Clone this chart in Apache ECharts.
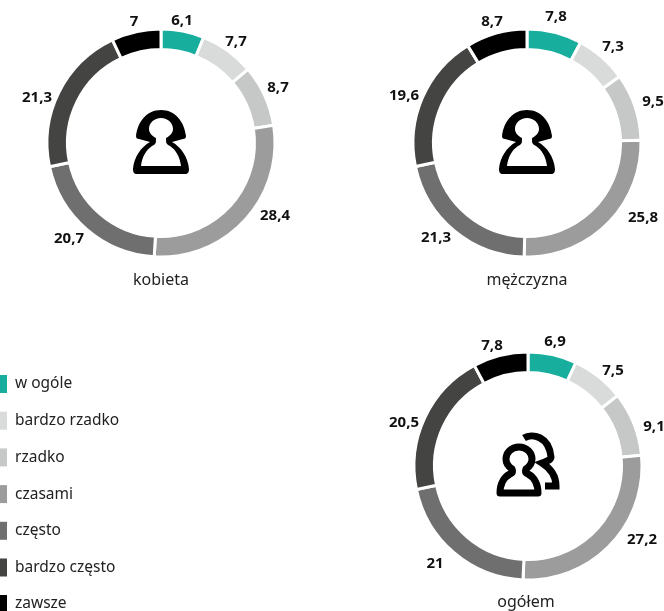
<!DOCTYPE html>
<html><head><meta charset="utf-8">
<style>html,body{margin:0;padding:0;background:#fff}#c{width:664px;height:611px}</style>
<script src="https://cdn.jsdelivr.net/npm/echarts@6/dist/echarts.min.js"></script>
</head><body><div id="c"></div>
<script>
const categories = ['w ogóle','bardzo rzadko','rzadko','czasami','często','bardzo często','zawsze'];
const colors = ['#17ae9d','#d9dbda','#c6c8c7','#9c9c9c','#6f6f6f','#444442','#000000'];
const kobieta = [6.1,7.7,8.7,28.4,20.7,21.3,7];
const mezczyzna = [7.8,7.3,9.5,25.8,21.3,19.6,8.7];
const ogolem = [6.9,7.5,9.1,27.2,21,20.5,7.8];
const FONT = '"Noto Sans", Roboto, sans-serif';
// Hand-placed label anchors, as in the reference
const labelAnchors = [
  [[182,21],[236,42],[278,88],[275,216],[69,239],[37,98],[134,22]],
  [[556,17],[613,47],[653,102],[643,218],[436,238],[404,96],[492,22]],
  [[555,342],[613,371],[654,427],[642,540],[435,564],[404,423],[492,346]]
];

function pie(name, values, center, idx){
  return {
    type:'pie', name, center, radius:[93.5,114], startAngle:90, clockwise:true, silent:true,
    animation:false, avoidLabelOverlap:false,
    itemStyle:{borderColor:'#fff',borderWidth:3},
    label:{show:true,position:'outside',
      formatter:p=>String(p.value).replace('.',','),
      color:'#111',fontFamily:FONT,fontSize:15,fontWeight:700},
    labelLine:{show:false},
    labelLayout:p=>{const a=labelAnchors[idx][p.dataIndex];return {x:a[0],y:a[1],align:'center',verticalAlign:'middle'};},
    data:categories.map((c,i)=>({name:c,value:values[i],itemStyle:{color:colors[i]}}))
  };
}
function caption(text,x,y){
  return {text,left:x,top:y,padding:0,textAlign:'center',textStyle:{color:'#222',fontFamily:FONT,fontSize:16,fontWeight:400}};
}
const personOuter='M0 -33C14 -33 23 -22 25 -7C25 -5 24 -4 22 -4L11 -1C20 4 27 14 28 26C28 29 27 31 24 31L-24 31C-27 31 -28 29 -28 26C-27 14 -20 4 -11 -1L-22 -4C-24 -4 -25 -5 -25 -7C-23 -22 -14 -33 0 -33Z';
const personInner='M0 -25C7 -25 12 -20 12 -14C12 -10 9 -7 5 -5L5 -2C5 1 7 2 9 3C15 7 19 14 20 23L-20 23C-19 14 -15 7 -9 3C-7 2 -5 1 -5 -2L-5 -5C-9 -7 -12 -10 -12 -14C-12 -20 -7 -25 0 -25Z';
const frontPerson='M0 -23C8 -23 13 -17 13 -11C13 -6 10 -3 7 -1C6 1 6 3 9 4C15 7 19 14 19 23L-19 23C-19 14 -15 7 -9 4C-6 3 -6 1 -7 -1C-10 -3 -13 -6 -13 -11C-13 -17 -8 -23 0 -23Z';
const backPerson='M0 -28C8 -33 25 -30 27 -9C27 -6 23 -5 18 -3C26 2 32 10 32 20L21 20';
const G=echarts.graphic;
G.registerShape('pOuter',G.extendPath(personOuter,{}));
G.registerShape('pInner',G.extendPath(personInner,{}));
G.registerShape('pFront',G.extendPath(frontPerson,{}));
G.registerShape('pBack',G.extendPath(backPerson,{}));
function raw(type,x,y,style){return {type,x,y,silent:true,style};}

const chart=echarts.init(document.getElementById('c'),null,{renderer:'canvas'});
chart.setOption({
  backgroundColor:'#fff',animation:false,
  title:[caption('kobieta',161,272),caption('mężczyzna',527,272),caption('ogółem',526,594)],
  legend:[
    {orient:'vertical',left:0,top:375,itemWidth:7,itemHeight:18,itemGap:18.7,padding:0,selectedMode:false,
     icon:'rect',itemStyle:{borderWidth:0},
     textStyle:{color:'#222',fontFamily:FONT,fontSize:15.5,padding:[0,0,0,3]},data:categories.slice(0,6)},
    {orient:'vertical',left:0,top:595,itemWidth:7,itemHeight:18,padding:0,selectedMode:false,
     icon:'rect',itemStyle:{borderWidth:0},
     textStyle:{color:'#222',fontFamily:FONT,fontSize:15.5,padding:[0,0,0,3]},data:categories.slice(6)}
  ],
  series:[pie('kobieta',kobieta,[161,143],0),pie('mężczyzna',mezczyzna,[527,143],1),pie('ogółem',ogolem,[528,466],2)],
  graphic:[
    raw('pOuter',161,143,{fill:'#000'}),raw('pInner',161,143,{fill:'#fff'}),
    raw('pOuter',527,143,{fill:'#000'}),raw('pInner',527,143,{fill:'#fff'}),
    raw('pBack',524,466,{fill:'none',stroke:'#000',lineWidth:7}),
    raw('pFront',519,470,{fill:'#fff',stroke:'#000',lineWidth:7,lineJoin:'round'})
  ]
});
</script></body></html>
